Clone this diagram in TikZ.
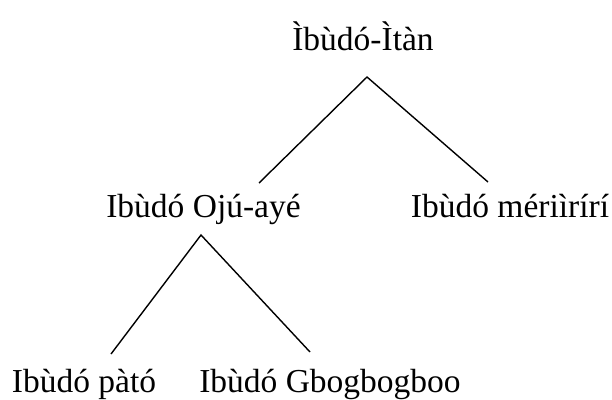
\documentclass[tikz,border=0pt]{standalone}
\usepackage{fontspec}
\setmainfont{Liberation Serif}
\begin{document}
\begin{tikzpicture}[x=1pt,y=-1pt,
  lbl/.style={anchor=base,inner sep=0pt,font=\fontsize{33.5}{40}\selectfont},
  branch/.style={line width=1.4pt}]
\useasboundingbox (0,0) rectangle (612,399);
\node[lbl] (root) at (363,50) {Ìbùdó-Ìtàn};
\node[lbl] (oju) at (203.5,217) {Ibùdó Ojú-ayé};
\node[lbl] (meri) at (510,217) {Ibùdó mériìrírí};
\node[lbl] (pato) at (84,392) {Ibùdó pàtó};
\node[lbl] (gbo) at (330,392) {Ibùdó Gbogbogboo};
\coordinate (a1) at (367,77);
\coordinate (l1) at (259,183);
\coordinate (r1) at (488,182);
\coordinate (a2) at (201,235);
\coordinate (l2) at (111,354);
\coordinate (r2) at (310,352);
\draw[branch] (l1) -- (a1) -- (r1);
\draw[branch] (l2) -- (a2) -- (r2);
\end{tikzpicture}
\end{document}
